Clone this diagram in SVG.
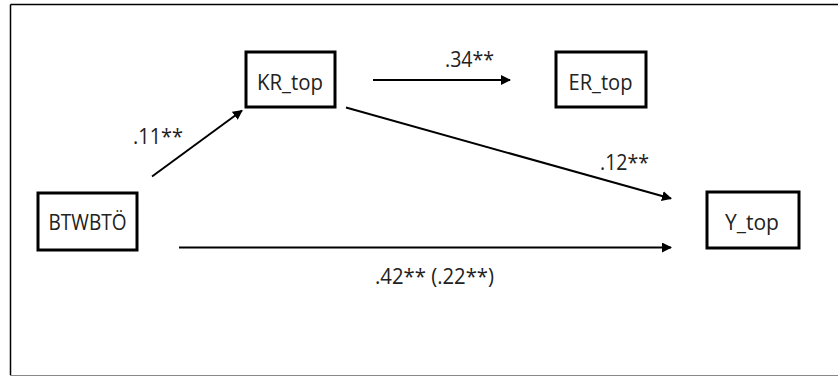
<svg xmlns="http://www.w3.org/2000/svg" width="838" height="376" viewBox="0 0 838 376">
<defs>
<marker id="arr" viewBox="0 0 10 10" refX="9" refY="5" markerWidth="5" markerHeight="5" orient="auto" markerUnits="strokeWidth">
<path d="M0,0 L10,5 L0,10 z" fill="#000"/>
</marker>
<style>
.box{fill:#fff;stroke:#000;stroke-width:3}
.t{font-family:"Open Sans","Liberation Sans",Arial,sans-serif;font-size:21.5px;fill:#222}
.c{stroke:#000;stroke-width:2;fill:none;marker-end:url(#arr)}
</style>
</defs>
<rect x="0" y="0" width="838" height="376" fill="#fff"/>
<g id="frame">
<line x1="10.5" y1="4.5" x2="838" y2="4.5" stroke="#000" stroke-width="1.5"/>
<line x1="10.5" y1="4.5" x2="10.5" y2="375" stroke="#000" stroke-width="1.5"/>
<line x1="10" y1="375.5" x2="838" y2="375.5" stroke="#888" stroke-width="1.2"/>
</g>
<g id="connectors">
<line class="c" x1="152" y1="176.5" x2="242" y2="110.5"/>
<line class="c" x1="373" y1="80" x2="510" y2="80"/>
<line class="c" x1="346" y1="107.5" x2="671" y2="198.5"/>
<line class="c" x1="179" y1="247.5" x2="671" y2="247.5"/>
<text class="t" x="133" y="144" textLength="50" lengthAdjust="spacingAndGlyphs">.11**</text>
<text class="t" x="445" y="67" textLength="49" lengthAdjust="spacingAndGlyphs">.34**</text>
<text class="t" x="600" y="169.5" textLength="49" lengthAdjust="spacingAndGlyphs">.12**</text>
<text class="t" x="375" y="283.5" textLength="119" lengthAdjust="spacingAndGlyphs">.42** (.22**)</text>
</g>
<g id="BTWBTO">
<rect class="box" x="38" y="193" width="99" height="57"/>
<text class="t" x="48.5" y="230" textLength="78" lengthAdjust="spacingAndGlyphs">BTWBTÖ</text>
</g>
<g id="KR_top">
<rect class="box" x="246" y="52" width="89" height="55"/>
<text class="t" x="257" y="89.5" textLength="66" lengthAdjust="spacingAndGlyphs">KR_top</text>
</g>
<g id="ER_top">
<rect class="box" x="556" y="52" width="90" height="55"/>
<text class="t" x="568.5" y="89.5" textLength="64" lengthAdjust="spacingAndGlyphs">ER_top</text>
</g>
<g id="Y_top">
<rect class="box" x="707" y="192" width="92" height="56"/>
<text class="t" x="725" y="230" textLength="54" lengthAdjust="spacingAndGlyphs">Y_top</text>
</g>
</svg>
